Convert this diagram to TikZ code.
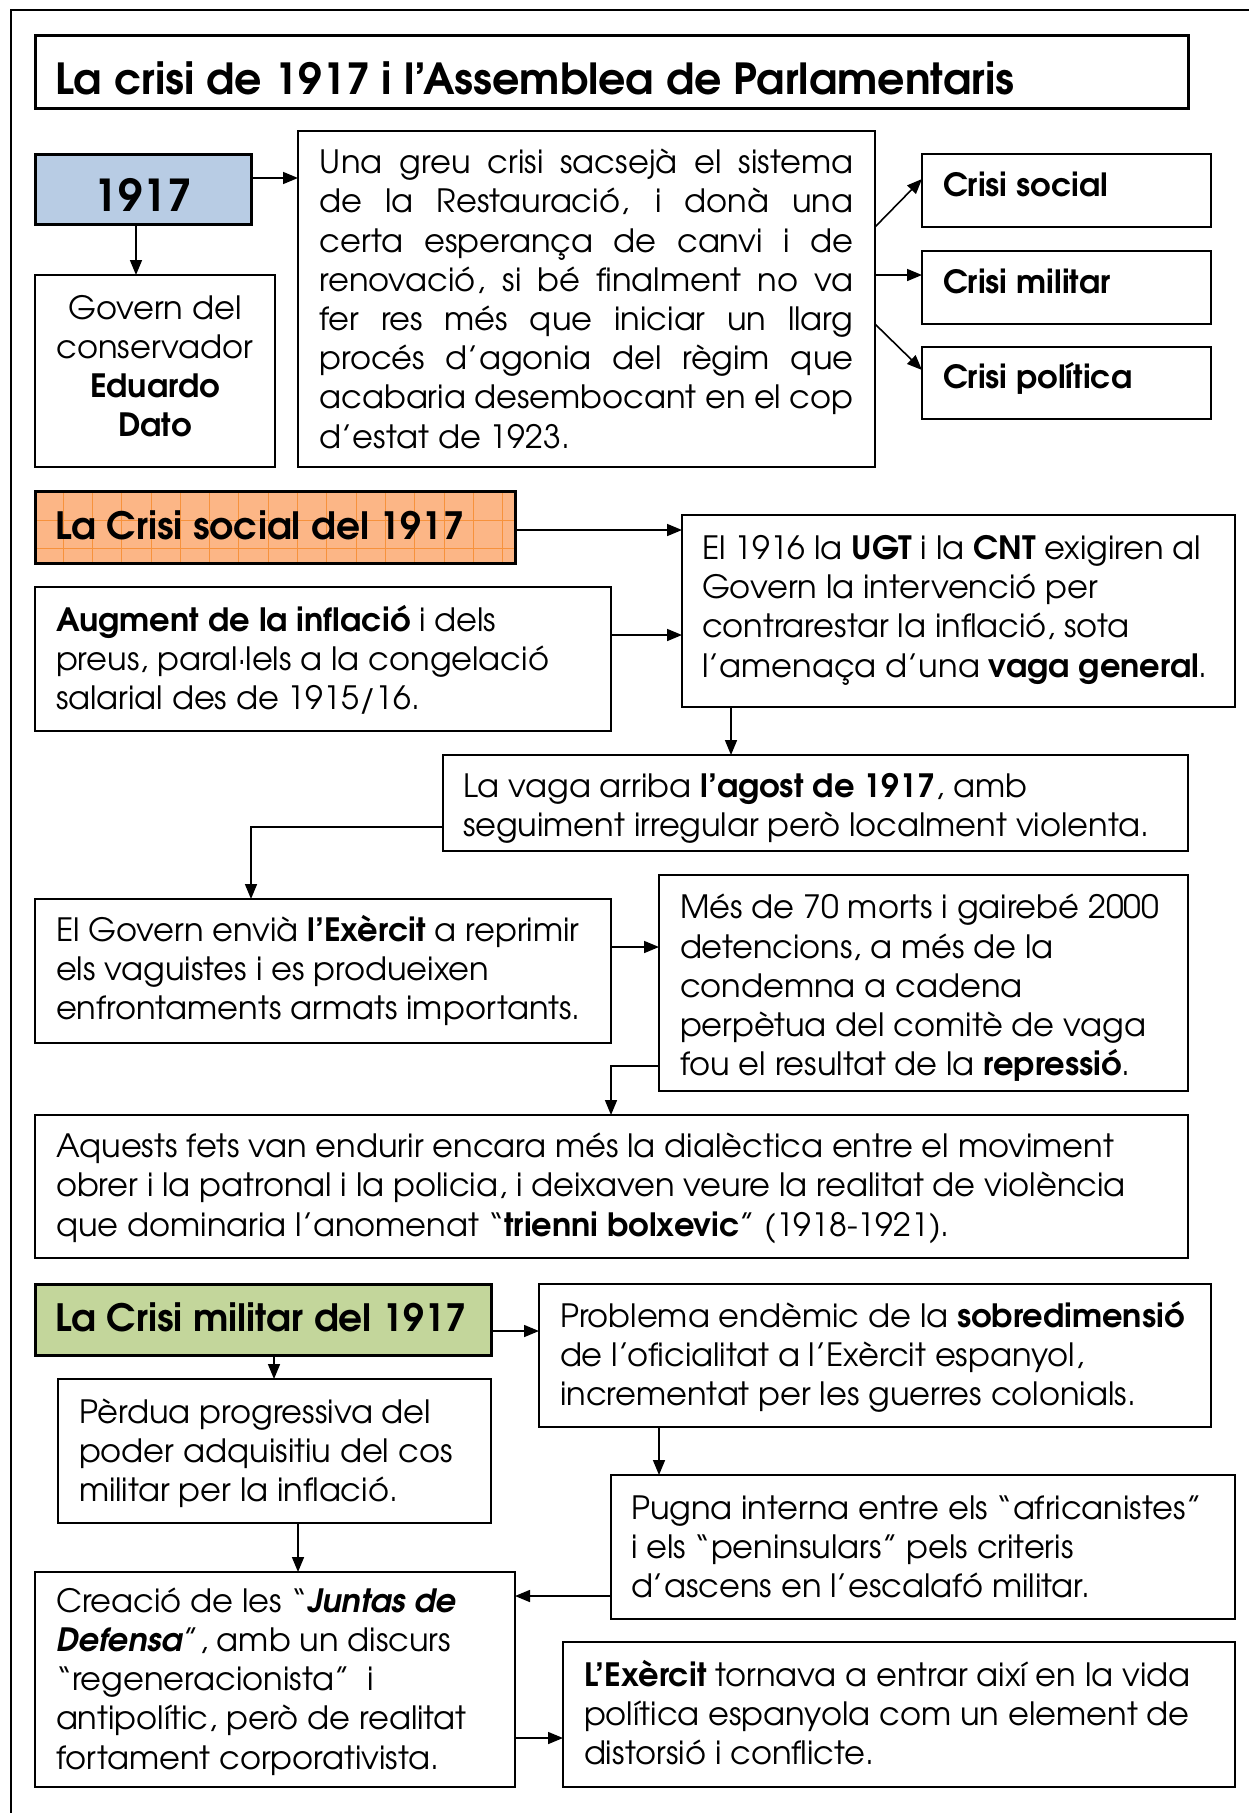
\documentclass[tikz,border=0pt]{standalone}
\usepackage{fontspec}
\setmainfont{texgyreadventor}[Extension=.otf, UprightFont=*-regular, BoldFont=*-bold, ItalicFont=*-italic, BoldItalicFont=*-bolditalic]
\usetikzlibrary{arrows.meta}
\definecolor{hblue}{RGB}{184,204,228}
\definecolor{hgreen}{RGB}{195,214,155}
\definecolor{horange}{RGB}{252,182,134}
\definecolor{ogrid}{RGB}{247,146,60}
\tikzset{
  box/.style={draw, line width=2pt, outer sep=0pt, inner xsep=21pt, inner ysep=0pt, anchor=north west, align=left, font=\fontsize{32.1}{39.2}\selectfont},
  hdr/.style={draw, line width=3pt, outer sep=0pt, inner xsep=20pt, inner ysep=0pt, anchor=north west, align=left, font=\bfseries\fontsize{37.6}{40}\selectfont},
  crisi/.style={box, font=\bfseries\fontsize{32}{36}\selectfont, text width=247pt},
  arr/.style={line width=1.6pt, -{Triangle[length=15pt,width=12pt]}},
  gridln/.style={draw=ogrid, line width=0.8pt},
}
\newcommand{\jl}[1]{\makebox[534pt][s]{\spaceskip=0pt\xspaceskip=0pt #1}}
\newcommand{\ml}[1]{\mbox{\spaceskip=0pt\xspaceskip=0pt #1}}
\newcommand{\tp}[1]{\rule{0pt}{#1pt}}
\newcommand{\bt}[1]{\rule[-#1pt]{0pt}{0pt}}
\begin{document}
\begin{tikzpicture}[x=1pt,y=-1pt]
\useasboundingbox (0,0) rectangle (1249,1813);
\draw[line width=2.5pt] (11,1813) -- (11,10) -- (1249,10);

% title
\node[hdr, text width=1113pt, minimum height=73pt, font=\bfseries\fontsize{42.8}{46}\selectfont] (title) at (35,35) {\tp{59}\ml{La crisi de 1917 i l’Assemblea de Parlamentaris}\bt{14}};

% top block
\node[hdr, fill=hblue, align=center, text width=176pt, minimum height=70pt, font=\bfseries\fontsize{44}{48}\selectfont] (y1917) at (35,154) {\tp{57.4}1917\bt{12.6}};
\node[box, align=center, text width=198pt, minimum height=192pt] (govern) at (35,275) {\tp{44}\ml{Govern del}\\\ml{conservador}\\\textbf{Eduardo}\\\textbf{Dato}\bt{30.4}};
\node[box, inner xsep=21.5pt, text width=534pt, minimum height=336pt] (unagreu) at (298,131) {\tp{42.7}\jl{Una greu crisi sacsejà el sistema}\\\jl{de la Restauració, i donà una}\\\jl{certa esperança de canvi i de}\\\jl{renovació, si bé finalment no va}\\\jl{fer res més que iniciar un llarg}\\\jl{procés d’agonia del règim que}\\\jl{acabaria desembocant en el cop}\\\ml{d’estat de 1923.}\bt{18.9}};
\node[crisi, minimum height=73pt] (csocial) at (922,154) {\tp{42.7}\ml{Crisi social}\bt{30.3}};
\node[crisi, minimum height=73pt] (cmilitar) at (922,251) {\tp{42}\ml{Crisi militar}\bt{31}};
\node[crisi, minimum height=72pt] (cpolitica) at (922,347) {\tp{41}\ml{Crisi política}\bt{31}};

% social crisis
\node[hdr, fill=horange, text width=440pt, minimum height=72pt,
  path picture={
    \foreach \i in {0,...,16}{\draw[gridln] ([xshift=28pt+\i*29.3pt]path picture bounding box.south west) -- ([xshift=28pt+\i*29.3pt]path picture bounding box.north west);}
    \foreach \j in {0,1,2}{\draw[gridln] ([yshift=-1pt-\j*28pt]path picture bounding box.north west) -- ([yshift=-1pt-\j*28pt]path picture bounding box.north east);}
  }] (hsocial) at (35,491) {\tp{48}\ml{La Crisi social del 1917}\bt{24}};
\node[box, inner xsep=20pt, text width=513pt, minimum height=192pt] (e1916) at (682,515) {\tp{44.4}\ml{El 1916 la \textbf{UGT} i la \textbf{CNT} exigiren al}\\\ml{Govern la intervenció per}\\\ml{contrarestar la inflació, sota}\\\ml{l’amenaça d’una \textbf{vaga general}.}\bt{30}};
\node[box, text width=534pt, minimum height=144pt] (augment) at (35,587) {\tp{44}\ml{\textbf{Augment de la inflació} i dels}\\\ml{preus, paral·lels a la congelació}\\\ml{salarial des de 1915/16.}\bt{21.6}};
\node[box, inner xsep=20pt, text width=705pt, minimum height=96pt] (vaga) at (443,755) {\tp{42.3}\ml{La vaga arriba \textbf{l’agost de 1917}, amb}\\\ml{seguiment irregular però localment violenta.}\bt{14.5}};
\node[box, text width=534pt, minimum height=144pt] (govexer) at (35,899) {\tp{42}\ml{El Govern envià \textbf{l’Exèrcit} a reprimir}\\\ml{els vaguistes i es produeixen}\\\ml{enfrontaments armats importants.}\bt{23.6}};
\node[box, text width=487pt, minimum height=216pt] (morts) at (659,875) {\tp{43.8}\ml{Més de 70 morts i gairebé 2000}\\\ml{detencions, a més de la}\\\ml{condemna a cadena}\\\ml{perpètua del comitè de vaga}\\\ml{fou el resultat de la \textbf{repressió}.}\bt{15.4}};
\node[box, text width=1111pt, minimum height=143pt] (aquests) at (35,1115) {\tp{42.6}\ml{Aquests fets van endurir encara més la dialèctica entre el moviment}\\\ml{obrer i la patronal i la policia, i deixaven veure la realitat de violència}\\\ml{que dominaria l’anomenat “\textbf{trienni bolxevic}” (1918-1921).}\bt{22}};

% military crisis
\node[hdr, fill=hgreen, text width=416pt, minimum height=71pt] (hmilitar) at (35,1284) {\tp{47}\ml{La Crisi militar del 1917}\bt{24}};
\node[box, text width=630pt, minimum height=143pt] (problema) at (539,1284) {\tp{43.5}\ml{Problema endèmic de la \textbf{sobredimensió}}\\\ml{de l’oficialitat a l’Exèrcit espanyol,}\\\ml{incrementat per les guerres colonials.}\bt{21.1}};
\node[box, text width=391pt, minimum height=144pt] (perdua) at (58,1379) {\tp{44}\ml{Pèrdua progressiva del}\\\ml{poder adquisitiu del cos}\\\ml{militar per la inflació.}\bt{21.6}};
\node[box, inner xsep=20pt, text width=584pt, minimum height=144pt] (pugna) at (611,1475) {\tp{44.5}\ml{Pugna interna entre els “africanistes”}\\\ml{i els “peninsulars” pels criteris}\\\ml{d’ascens en l’escalafó militar.}\bt{21.1}};
\node[box, text width=438pt, minimum height=215pt] (creacio) at (35,1572) {\tp{40.3}\ml{Creació de les “\textbf{\textit{Juntas de}}}\\\ml{\textbf{\textit{Defensa}}”, amb un discurs}\\\ml{“regeneracionista”\ \ i}\\\ml{antipolític, però de realitat}\\\ml{fortament corporativista.}\bt{17.9}};
\node[box, text width=630pt, minimum height=145pt] (exercit) at (563,1642) {\tp{44.5}\ml{\textbf{L’Exèrcit} tornava a entrar així en la vida}\\\ml{política espanyola com un element de}\\\ml{distorsió i conflicte.}\bt{22.1}};

% connectors
\coordinate (l1) at (0,178);
\draw[arr] (l1 -| y1917.east) -- (l1 -| unagreu.west);
\coordinate (v1) at (136,0);
\draw[arr] (v1 |- y1917.south) -- (v1 |- govern.north);
\coordinate (l2) at (0,227); \coordinate (l3) at (0,179);
\draw[arr] (l2 -| unagreu.east) -- (l3 -| csocial.west);
\coordinate (l4) at (0,275);
\draw[arr] (l4 -| unagreu.east) -- (l4 -| cmilitar.west);
\coordinate (l5) at (0,324); \coordinate (l6) at (0,370);
\draw[arr] (l5 -| unagreu.east) -- (l6 -| cpolitica.west);
\coordinate (l7) at (0,530);
\draw[arr] (l7 -| hsocial.east) -- (l7 -| e1916.west);
\coordinate (l8) at (0,635);
\draw[arr] (l8 -| augment.east) -- (l8 -| e1916.west);
\coordinate (v2) at (731,0);
\draw[arr] (v2 |- e1916.south) -- (v2 |- vaga.north);
\coordinate (l9) at (251,827);
\draw[arr] (l9 -| vaga.west) -- (l9) -- (l9 |- govexer.north);
\coordinate (l10) at (0,947);
\draw[arr] (l10 -| govexer.east) -- (l10 -| morts.west);
\coordinate (l11) at (611,1066);
\draw[arr] (l11 -| morts.west) -- (l11) -- (l11 |- aquests.north);
\coordinate (l12) at (0,1331);
\draw[arr] (l12 -| hmilitar.east) -- (l12 -| problema.west);
\coordinate (v3) at (274,0);
\draw[arr] (v3 |- hmilitar.south) -- (v3 |- perdua.north);
\coordinate (v4) at (298,0);
\draw[arr] (v4 |- perdua.south) -- (v4 |- creacio.north);
\coordinate (v5) at (659,0);
\draw[arr] (v5 |- problema.south) -- (v5 |- pugna.north);
\coordinate (l13) at (0,1596);
\draw[arr] (l13 -| pugna.west) -- (l13 -| creacio.east);
\coordinate (l14) at (0,1738);
\draw[arr] (l14 -| creacio.east) -- (l14 -| exercit.west);
\end{tikzpicture}
\end{document}
